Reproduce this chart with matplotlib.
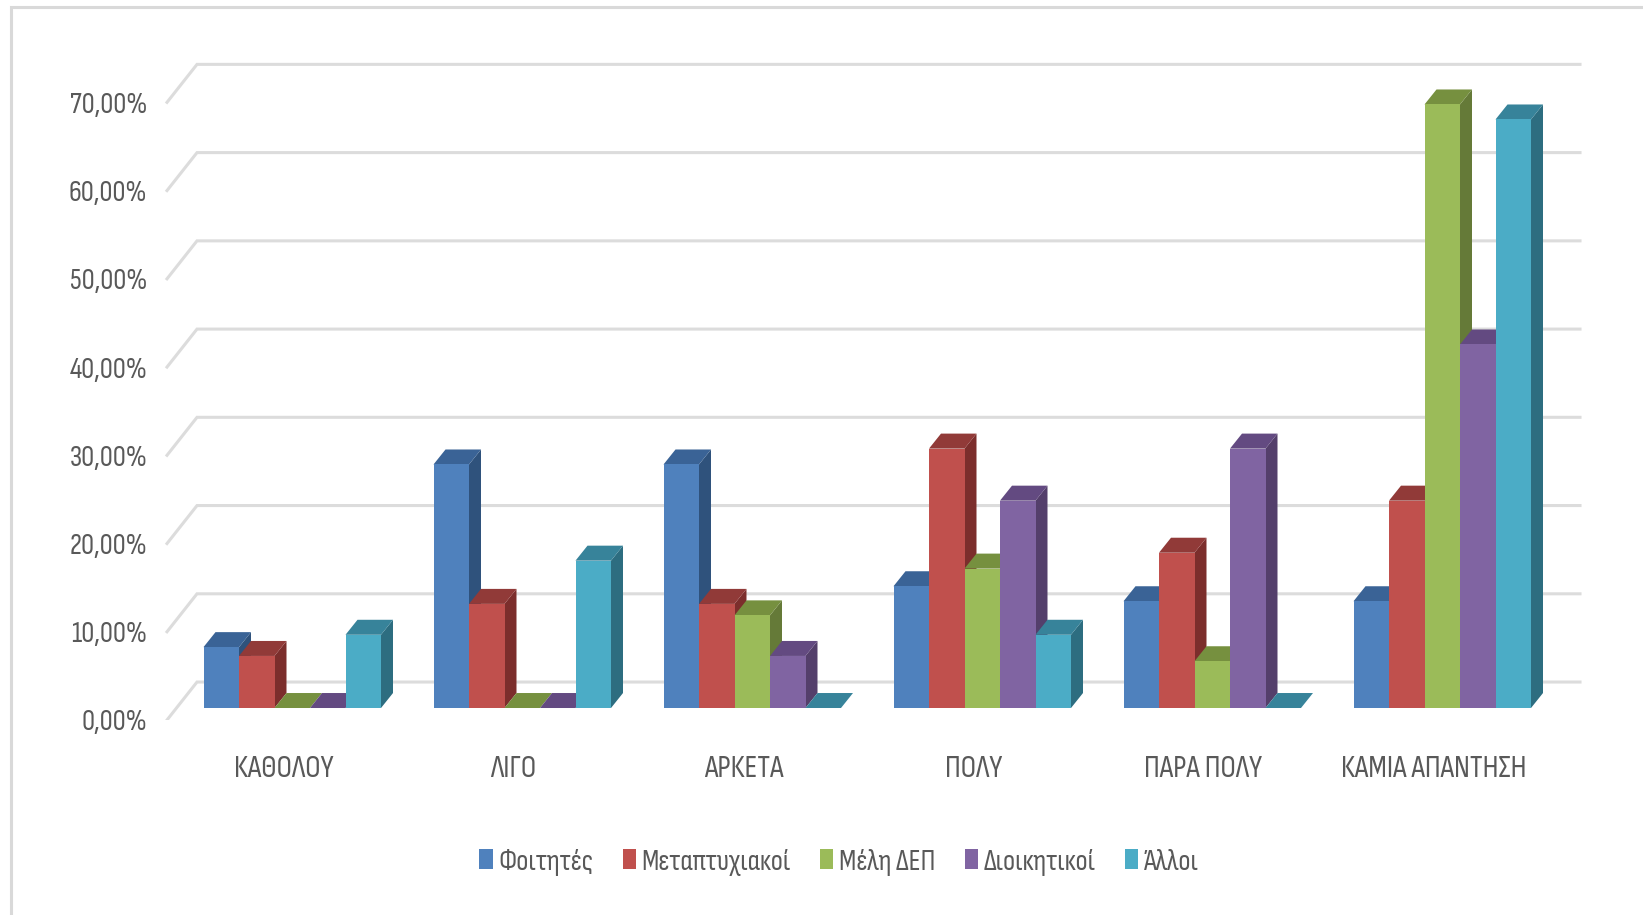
import matplotlib
matplotlib.use('Agg')
import matplotlib.pyplot as plt
from matplotlib.lines import Line2D
from matplotlib.patches import Patch, Polygon

plt.rcParams['font.family'] = ['Sofia Sans Condensed', 'Roboto Condensed', 'Open Sans', 'DejaVu Sans']

categories = ['ΚΑΘΟΛΟΥ', 'ΛΙΓΟ', 'ΑΡΚΕΤΑ', 'ΠΟΛΥ', 'ΠΑΡΑ ΠΟΛΥ', 'ΚΑΜΙΑ ΑΠΑΝΤΗΣΗ']
foitites = [6.9, 27.6, 27.6, 13.8, 12.1, 12.1]
metaptyxiakoi = [5.9, 11.8, 11.8, 29.4, 17.6, 23.5]
meli_dep = [0, 0, 10.5, 15.8, 5.3, 68.4]
dioikitikoi = [0, 0, 5.9, 23.5, 29.4, 41.2]
alloi = [8.3, 16.7, 0, 8.3, 0, 66.7]
series_names = ['Φοιτητές', 'Μεταπτυχιακοί', 'Μέλη ΔΕΠ', 'Διοικητικοί', 'Άλλοι']
y_ticks = [0, 10, 20, 30, 40, 50, 60, 70]

series = [foitites, metaptyxiakoi, meli_dep, dioikitikoi, alloi]
front_colors = ['#4f81bd', '#c0504d', '#9bbb59', '#8064a2', '#4bacc6']
top_colors = ['#3a6396', '#913a38', '#76903f', '#634a81', '#37839a']
side_colors = ['#2f527c', '#7c2e2c', '#657a38', '#543f6b', '#2d6d80']

W, H = 1643, 915
PX_X = 230.0    # pixels per category
PX_Y = 8.83     # pixels per percent
AX_L, AX_R, AX_T, AX_B = 160, 1620, 20, 720
BASE_Y = 708.5  # bar base in pixels
LABEL_X0 = 283.5    # centre of first category label in pixels

fig = plt.figure(figsize=(W / 100, H / 100), dpi=100, facecolor='white')
ax = fig.add_axes([AX_L / W, 1 - AX_B / H, (AX_R - AX_L) / W, (AX_B - AX_T) / H])
ax.set_xlim((AX_L - LABEL_X0) / PX_X, (AX_R - LABEL_X0) / PX_X)
ax.set_ylim((BASE_Y - AX_B) / PX_Y, (BASE_Y - AX_T) / PX_Y)
ax.patch.set_alpha(0)
for s in ax.spines.values():
    s.set_visible(False)

bar_w = 35.5 / PX_X
group_off = (LABEL_X0 - 203.5) / PX_X
depth_x = 12 / PX_X
depth_y = 15 / PX_Y

# back wall grid with the short diagonal on the left
grid_color = '#dcdcdc'
back_y = 26 / PX_Y
front_y = -12 / PX_Y
wall_x0 = (167 - LABEL_X0) / PX_X
wall_x1 = (197 - LABEL_X0) / PX_X
grid_end = (1580 - LABEL_X0) / PX_X
for v in y_ticks:
    ax.plot([wall_x0, wall_x1, grid_end], [v + front_y, v + back_y, v + back_y],
            color=grid_color, lw=2.2, solid_joinstyle='miter', zorder=1)

z = 2
for i in range(len(categories)):
    for j, values in enumerate(series):
        x0 = i - group_off + j * bar_w
        x1 = x0 + bar_w
        v = values[i]
        side = [(x1, 0), (x1 + depth_x, depth_y), (x1 + depth_x, v + depth_y), (x1, v)]
        top = [(x0, v), (x1, v), (x1 + depth_x, v + depth_y), (x0 + depth_x, v + depth_y)]
        front = [(x0, 0), (x1, 0), (x1, v), (x0, v)]
        ax.add_patch(Polygon(side, closed=True, fc=side_colors[j], ec='none', zorder=z))
        ax.add_patch(Polygon(top, closed=True, fc=top_colors[j], ec='none', zorder=z))
        ax.add_patch(Polygon(front, closed=True, fc=front_colors[j], ec='none', zorder=z))
        z += 1

text_color = '#595959'
ax.set_xticks(range(len(categories)))
ax.set_xticklabels(categories, fontsize=22.5, color=text_color)
ax.set_yticks([v + front_y for v in y_ticks])
ax.set_yticklabels(['%d,00%%' % v for v in y_ticks], fontsize=21, color=text_color)
ax.tick_params(axis='x', length=0, pad=25.5)
ax.tick_params(axis='y', length=0, pad=9)

handles = [Patch(fc=c, ec='none') for c in front_colors]
fig.legend(handles, series_names, loc='center', bbox_to_anchor=(839 / W, 1 - 862 / H),
           ncol=5, frameon=False, fontsize=21, labelcolor=text_color,
           handlelength=0.45, handleheight=0.68, handletextpad=0.2, columnspacing=1.0,
           borderpad=0, labelspacing=0)

# picture frame left over from the screenshot
fig.add_artist(Line2D([10.5 / W, 10.5 / W, 1], [0, 1 - 6.5 / H, 1 - 6.5 / H],
                      color='#d9d9d9', lw=2.2, solid_joinstyle='miter'))

fig.savefig('out.png', dpi=100)
